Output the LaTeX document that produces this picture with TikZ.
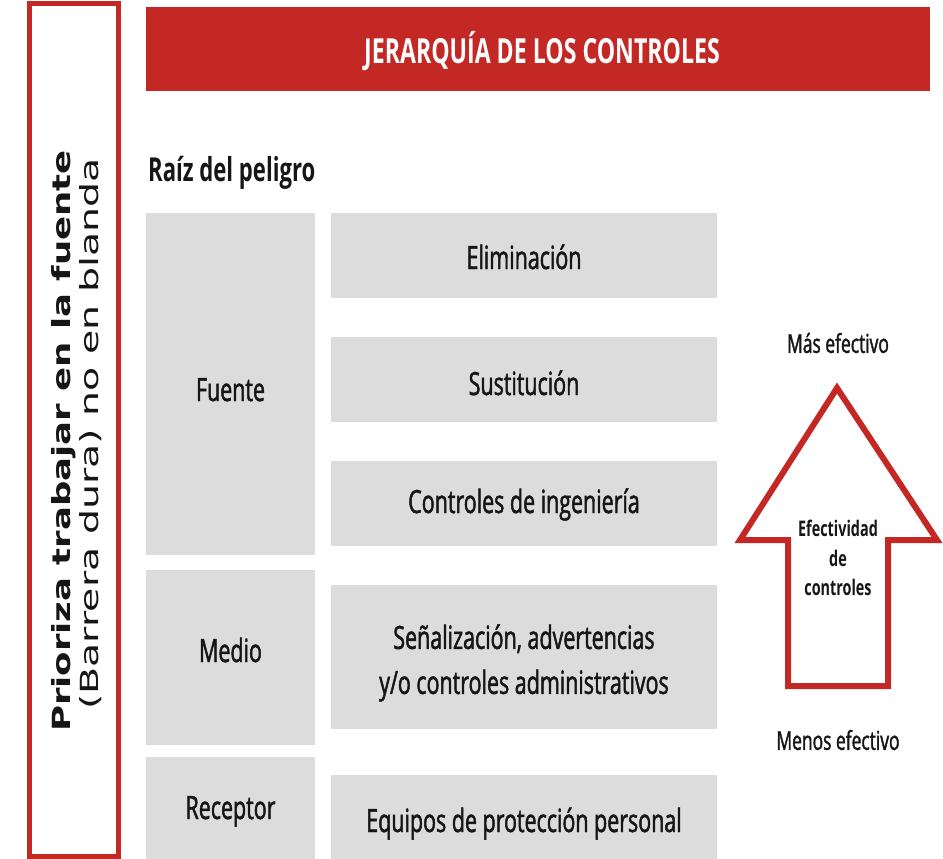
\documentclass[tikz,border=0pt]{standalone}
\usepackage{fontspec}
\setmainfont{Open Sans}[FakeStretch=0.67]
\newfontfamily\regfont{Open Sans}[FakeStretch=0.67, FakeBold=1.5]
\newfontfamily\vfont{DejaVu Sans}
\definecolor{redc}{RGB}{196,40,37}
\definecolor{grayc}{RGB}{220,220,220}
\definecolor{txt}{RGB}{22,22,22}
\begin{document}
\begin{tikzpicture}[x=1pt,y=-1pt,
  graybox/.style={fill=grayc, draw=none, inner sep=0pt},
  btext/.style={inner sep=0pt, text=txt, align=center, anchor=base,
    font=\regfont\fontsize{32}{45}\selectfont},
  lbl/.style={inner sep=0pt, text=txt, align=center},
  vtext/.style={inner sep=0pt, text=txt, rotate=90, anchor=base}
]
\useasboundingbox (0,0) rectangle (943,859);

% left frame
\node[draw=redc, line width=5pt, minimum width=89pt, minimum height=852pt, inner sep=0pt] (frame) at (73.5,430) {};
\node[vtext] (prio) at (70,441) {\scalebox{1.42}[1]{\vfont\bfseries\fontsize{25}{30}\selectfont Prioriza trabajar en la fuente}};
\node[vtext] (barr) at (98,434) {\scalebox{1.58}[1]{\vfont\fontsize{25}{30}\selectfont (Barrera dura) no en blanda}};

% header
\node[fill=redc, inner sep=0pt, minimum width=784pt, minimum height=84pt] (header) at (537.5,49) {};
\node[inner sep=0pt, anchor=base, text=white, font=\bfseries\fontsize{34.5}{40}\selectfont] (title) at (542,64) {JERARQUÍA DE LOS CONTROLES};

\node[lbl, anchor=base west, font=\bfseries\fontsize{33}{38}\selectfont] (raiz) at (148,181) {Raíz del peligro};

% left column
\node[graybox, minimum width=169pt, minimum height=342pt] (fuente) at (230.5,384) {};
\node[graybox, minimum width=169pt, minimum height=175pt] (medio) at (230.5,657.5) {};
\node[graybox, minimum width=169pt, minimum height=102pt] (receptor) at (230.5,808) {};
\node[btext] (fuente-t) at (230.5,401) {Fuente};
\node[btext] (medio-t) at (230.5,662) {Medio};
\node[btext] (receptor-t) at (230.5,819) {Receptor};

% right column
\node[graybox, minimum width=386pt, minimum height=85pt] (elim) at (524,255.5) {};
\node[graybox, minimum width=386pt, minimum height=85pt] (sust) at (524,379.5) {};
\node[graybox, minimum width=386pt, minimum height=85pt] (ing) at (524,503.5) {};
\node[graybox, minimum width=386pt, minimum height=144pt] (senal) at (524,657) {};
\node[graybox, minimum width=386pt, minimum height=84pt] (epp) at (524,817) {};
\node[btext] (elim-t) at (524,269) {Eliminación};
\node[btext] (sust-t) at (524,395) {Sustitución};
\node[btext] (ing-t) at (524,513) {Controles de ingeniería};
\node[btext, anchor=center] (senal-t) at (524,663) {Señalización, advertencias\\y/o controles administrativos};
\node[btext] (epp-t) at (524,832) {Equipos de protección personal};

% arrow
\draw[redc, line width=6pt, fill=white, line join=miter]
  (837,388) -- (937,540) -- (888,540) -- (888,686) -- (788,686) -- (788,540) -- (740,540) -- cycle;
\node[lbl, font=\bfseries\fontsize{21.5}{29.5}\selectfont] (efec) at (838,558) {Efectividad\\de\\controles};
\node[lbl, font=\regfont\fontsize{26}{30}\selectfont] (mas) at (838,343) {Más efectivo};
\node[lbl, font=\regfont\fontsize{26}{30}\selectfont] (menos) at (838,740) {Menos efectivo};
\end{tikzpicture}
\end{document}
